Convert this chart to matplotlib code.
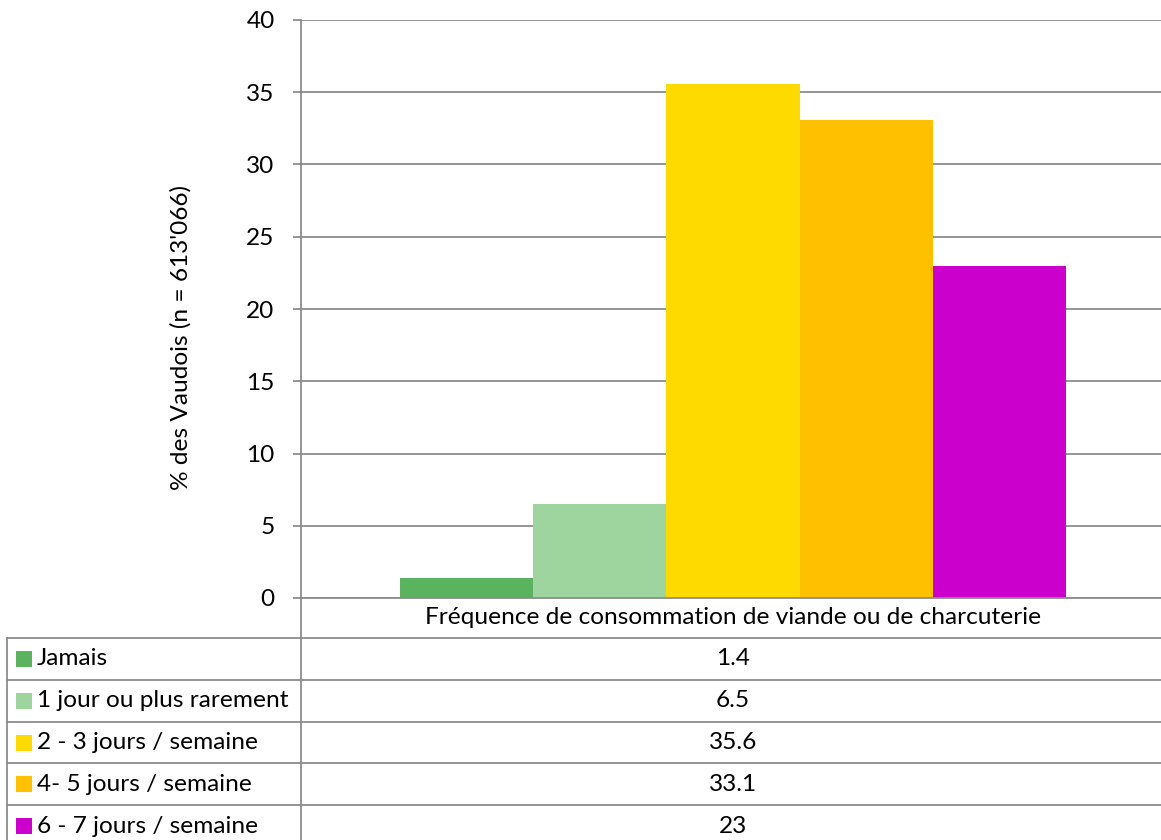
import matplotlib
matplotlib.use("Agg")
import matplotlib.pyplot as plt
from matplotlib.patches import Rectangle

plt.rcParams['font.family'] = ['Lato', 'DejaVu Sans']

category = "Fréquence de consommation de viande ou de charcuterie"
series = ["Jamais", "1 jour ou plus rarement", "2 - 3 jours / semaine",
          "4- 5 jours / semaine", "6 - 7 jours / semaine"]
values = [1.4, 6.5, 35.6, 33.1, 23]
value_labels = ["1.4", "6.5", "35.6", "33.1", "23"]
colors = ["#5CB35F", "#9ED49E", "#FFDA00", "#FFC000", "#CC00CC"]
yticks = [0, 5, 10, 15, 20, 25, 30, 35, 40]
ylabel = "% des Vaudois (n = 613'066)"

W, H = 1161, 840
fig = plt.figure(figsize=(W / 100, H / 100), dpi=100)
grid_c = "#8C8C8C"
FS = 17.6

# main axes in pixel-derived figure coords
L, R, T, B = 301, 1161, 20, 598
ax = fig.add_axes([L / W, (H - B) / H, (R - L) / W, (B - T) / H])
n = len(values)
bw = 0.1549
xs = [(i - (n - 1) / 2) * bw + 0.0023 for i in range(n)]
ax.bar(xs, values, width=bw, color=colors, linewidth=0, zorder=3)
ax.set_xlim(-0.5, 0.5)
ax.set_ylim(0, 40)
ax.set_yticks(yticks)
ax.set_yticklabels([str(t) for t in yticks], fontsize=FS)
ax.tick_params(axis='y', length=6, width=1.3, color=grid_c, pad=13)
ax.set_xticks([])
ax.yaxis.grid(True, color=grid_c, linewidth=1.3, zorder=0)
for s in ['top', 'right', 'bottom']:
    ax.spines[s].set_visible(False)
ax.spines['left'].set_color(grid_c)
ax.spines['left'].set_linewidth(1.3)
ax.set_ylabel(ylabel, fontsize=FS)
ax.yaxis.set_label_coords((192 - L) / (R - L), (B - 338) / (B - T))

# table overlay in pixel coords
tx = fig.add_axes([0, 0, 1, 1], facecolor='none')
tx.set_xlim(0, W)
tx.set_ylim(H, 0)
tx.axis('off')

row_top = 638
row_h = 41.8
xc = 733
tx.plot([L, L], [B, H + 10], color=grid_c, lw=1.3, clip_on=False)
tx.plot([L, W], [B, B], color=grid_c, lw=1.3)
tx.text(xc, (B + row_top) / 2, category, ha='center', va='center', fontsize=FS)
for i in range(n + 1):
    y = row_top + i * row_h
    tx.plot([7, W], [y, y], color=grid_c, lw=1.3)
tx.plot([7, 7], [row_top, H + 10], color=grid_c, lw=1.3, clip_on=False)
for i, (name, lab, c) in enumerate(zip(series, value_labels, colors)):
    yc = row_top + (i + 0.5) * row_h
    tx.add_patch(Rectangle((16, yc - 8), 16, 16, color=c, lw=0))
    tx.text(37, yc, name, ha='left', va='center', fontsize=FS)
    tx.text(xc, yc, lab, ha='center', va='center', fontsize=FS)

fig.savefig("out.png", dpi=100)
